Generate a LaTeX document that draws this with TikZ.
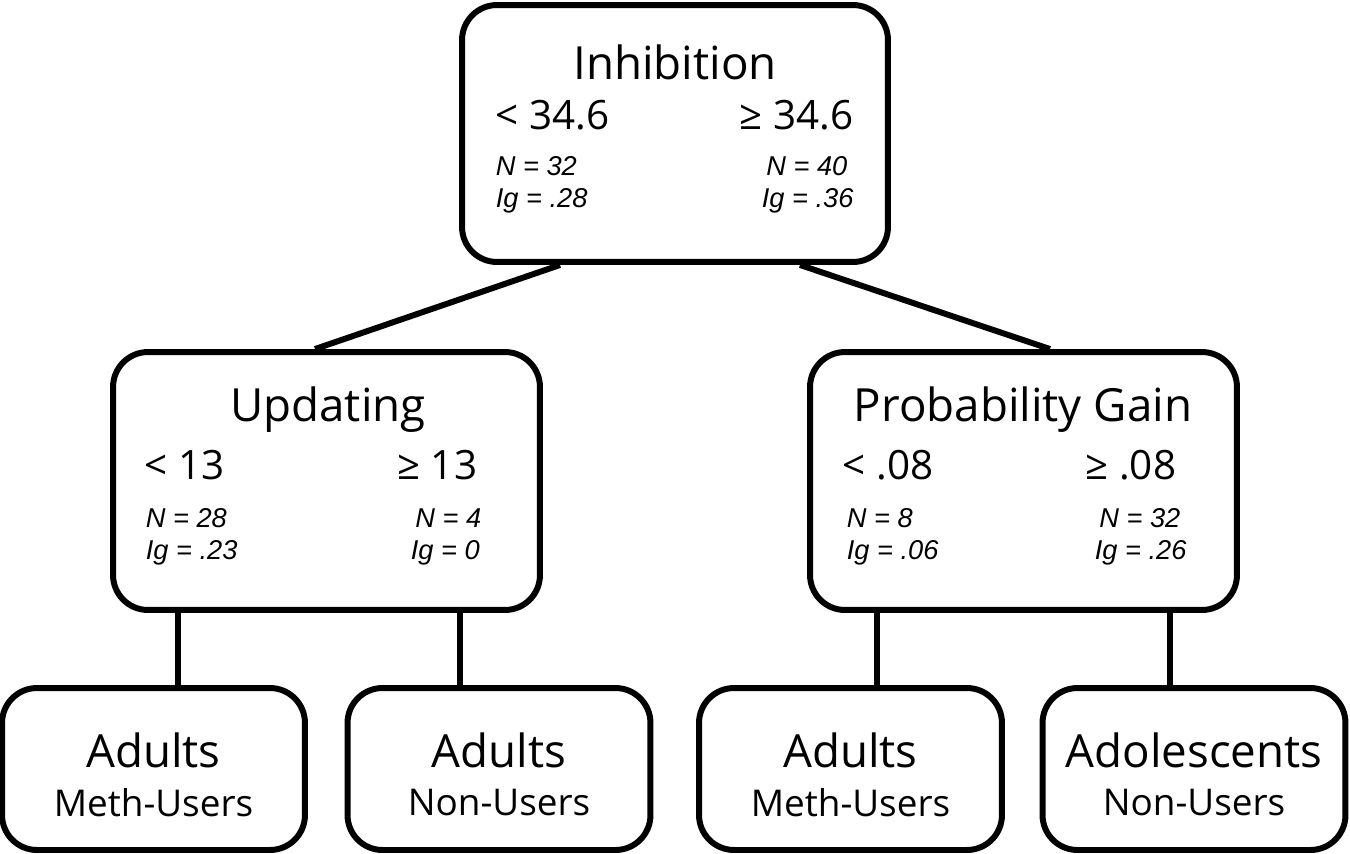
\documentclass[tikz,border=0pt]{standalone}
\usepackage{fontspec}
\setmainfont{Open Sans}
\newfontfamily\statfont{Liberation Sans}
\usetikzlibrary{positioning}
\begin{document}
\begin{tikzpicture}[x=0.02cm,y=-0.02cm,line width=3.4pt,
  box/.style={draw,rounded corners=0.7cm,inner sep=0pt},
  head/.style={font=\fontsize{26}{30}\selectfont},
  split/.style={font=\fontsize{23}{27}\selectfont},
  stat/.style={font=\statfont\itshape\fontsize{15.5}{18}\selectfont,align=left},
  sub/.style={font=\fontsize{21}{25}\selectfont}]
\useasboundingbox (0,0) rectangle (1350,853);
% split nodes
\node[box,minimum width=8.52cm,minimum height=5.14cm] (inh) at (675,133.5) {};
\node[box,minimum width=8.54cm,minimum height=5.16cm] (upd) at (326.5,481) {};
\node[box,minimum width=8.54cm,minimum height=5.16cm] (pg) at (1023.5,481) {};
% leaves
\foreach \kname/\kx in {la/153.5,lb/499,lc/850.5,ld/1194}{
  \node[box,minimum width=6.06cm,minimum height=3.24cm] (\kname) at (\kx,769) {};}
% edges
\draw ([xshift=-2.3cm]inh.south) -- ([xshift=-0.23cm]upd.north);
\draw ([xshift=2.5cm]inh.south) -- ([xshift=0.53cm]pg.north);
\foreach \kp/\kl/\ks in {upd/la/-2.97,upd/lb/2.67,pg/lc/-2.93,pg/ld/2.93}{
  \draw ([xshift=\ks cm]\kp.south) -- ([xshift=\ks cm]\kp.south |- \kl.north);}
% texts
\node[head] (tinh) at (675,62) {Inhibition};
\node[split,anchor=west] (s1) at (487,115) {< 34.6};
\node[split,anchor=east] (s2) at (862,115) {≥ 34.6};
\node[stat,anchor=west] (n1) at (487,185) {N = 32\\Ig = .28};
\node[stat,anchor=west] (n2) at (753,185) {\,N = 40\\Ig = .36};
\node[head] (tupd) at (328,410) {Updating};
\node[split,anchor=west] (s3) at (136,465) {< 13};
\node[split,anchor=east] (s4) at (486,465) {≥ 13};
\node[stat,anchor=west] (n3) at (137,537) {N = 28\\Ig = .23};
\node[stat,anchor=west] (n4) at (402,537) {\,N = 4\\Ig = 0};
\node[head] (tpg) at (1023,410) {Probability Gain};
\node[split,anchor=west] (s5) at (834,465) {< .08};
\node[split,anchor=east] (s6) at (1185,465) {≥ .08};
\node[stat,anchor=west] (n5) at (838,537) {N = 8\\Ig = .06};
\node[stat,anchor=west] (n6) at (1086,537) {\,N = 32\\Ig = .26};
\foreach \kname/\kt/\kb in {la/Adults/Meth-Users,lb/Adults/Non-Users,lc/Adults/Meth-Users,ld/Adolescents/Non-Users}{
  \node[head] (t\kname) at ([yshift=0.38cm]\kname.center) {\kt};
  \node[sub] (b\kname) at ([yshift=-0.68cm]\kname.center) {\kb};}
\end{tikzpicture}
\end{document}
